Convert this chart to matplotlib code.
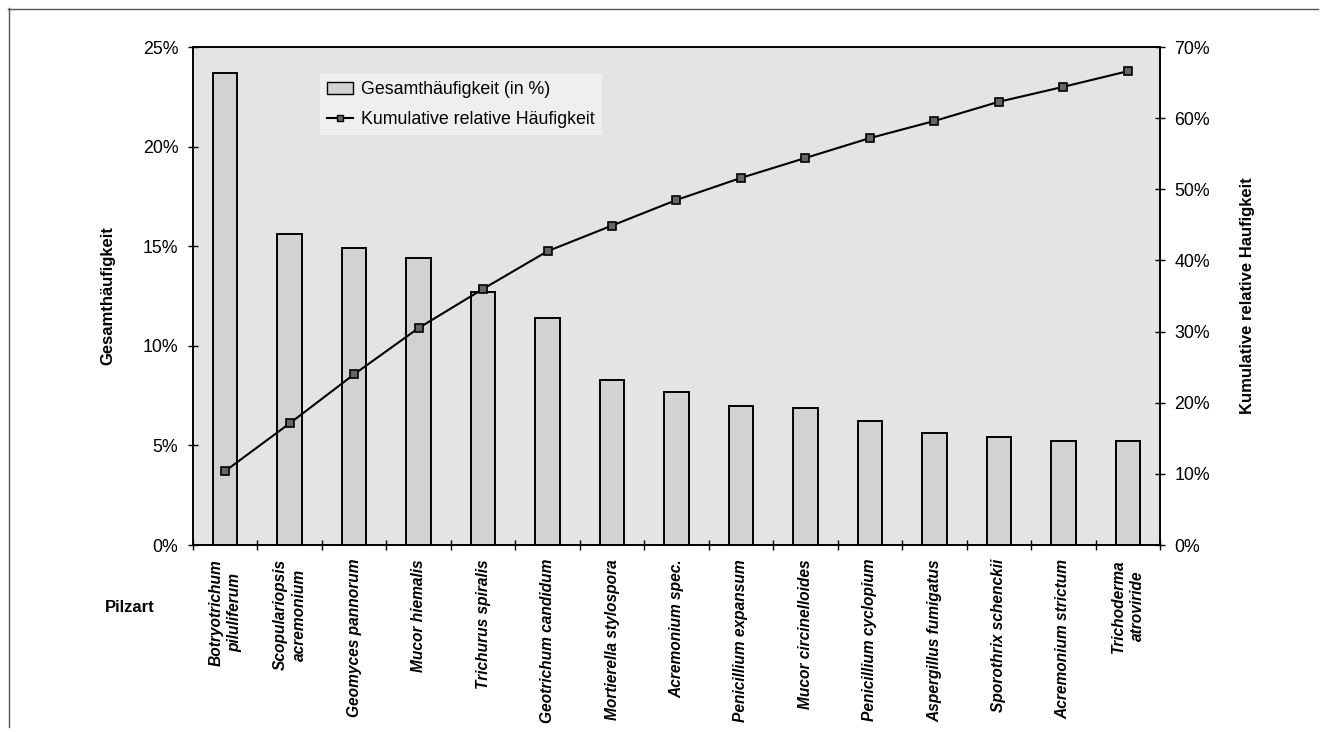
import matplotlib
matplotlib.use("Agg")
import matplotlib.pyplot as plt
import numpy as np
from matplotlib.patches import Patch
from matplotlib.lines import Line2D

plt.rcParams['font.family'] = ['Liberation Sans', 'DejaVu Sans']

species = [
    "Botryotrichum\npiluliferum",
    "Scopulariopsis\nacremonium",
    "Geomyces pannorum",
    "Mucor hiemalis",
    "Trichurus spiralis",
    "Geotrichum candidum",
    "Mortierella stylospora",
    "Acremonium spec.",
    "Penicillium expansum",
    "Mucor circinelloides",
    "Penicillium cyclopium",
    "Aspergillus fumigatus",
    "Sporothrix schenckii",
    "Acremonium strictum",
    "Trichoderma\natroviride",
]
total_pct = [23.7, 15.6, 14.9, 14.4, 12.7, 11.4, 8.3, 7.7, 7.0, 6.9, 6.2, 5.6, 5.4, 5.2, 5.2]
cumulative_pct = [10.4, 17.1, 24.0, 30.5, 36.0, 41.3, 44.9, 48.5, 51.6, 54.4, 57.2, 59.6, 62.3, 64.4, 66.6]
left_ticks = [0, 5, 10, 15, 20, 25]
right_ticks = [0, 10, 20, 30, 40, 50, 60, 70]

W, H = 1327, 732
fig = plt.figure(figsize=(W / 100, H / 100), dpi=100)
fig.patch.set_facecolor("white")

L, R, T, B = 193, 1160, 47, 545
ax = fig.add_axes([L / W, 1 - B / H, (R - L) / W, (B - T) / H])
ax.set_facecolor("#e4e4e4")
ax2 = ax.twinx()

x = np.arange(len(species))
bar_color = "#d2d2d2"
ax.bar(x, total_pct, width=0.38, color=bar_color, edgecolor="black", linewidth=1.4, zorder=2)
ax.set_xlim(-0.5, len(species) - 0.5)
ax.set_ylim(0, 25)
ax.set_yticks(left_ticks)
ax.set_yticklabels([f"{v}%" for v in left_ticks])

ax2.plot(x, cumulative_pct, color="black", linewidth=1.5, marker="s", markersize=5.5,
         markerfacecolor="#666666", markeredgecolor="black", markeredgewidth=1.2, zorder=3)
ax2.set_ylim(0, 70)
ax2.set_yticks(right_ticks)
ax2.set_yticklabels([f"{v}%" for v in right_ticks])

ax.set_xticks(x)
ax.set_xticklabels(species, rotation=90, fontsize=11.2, fontweight="bold", fontstyle="italic",
                   ha="center", va="top", multialignment="center", linespacing=1.3)
ax.set_xticks(np.arange(-0.5, len(species), 1), minor=True)
ax.tick_params(axis="x", which="major", length=0, pad=10)
ax.tick_params(axis="x", which="minor", direction="inout", length=7, width=1)
ax.tick_params(axis="y", direction="inout", length=7, width=1, labelsize=12.8, pad=7)
ax2.tick_params(axis="y", direction="inout", length=7, width=1, labelsize=12.8, pad=7)

for a in (ax, ax2):
    for s in a.spines.values():
        s.set_color("black")
        s.set_linewidth(1.2)

ax.set_ylabel("Gesamthäufigkeit", fontsize=12, fontweight="bold")
ax.yaxis.set_label_coords(-0.0807, 0.5)
ax2.set_ylabel("Kumulative relative Haufigkeit", fontsize=12, fontweight="bold")
ax2.yaxis.set_label_coords(1.083, 0.5)

fig.text(130 / W, 1 - 607 / H, "Pilzart", fontsize=12, fontweight="bold", ha="center", va="center")

handles = [
    Patch(facecolor=bar_color, edgecolor="black", linewidth=1.0),
    Line2D([0], [0], color="black", linewidth=1.5, marker="s", markersize=5,
           markerfacecolor="#666666", markeredgecolor="black"),
]
leg = ax2.legend(handles, ["Gesamthäufigkeit (in %)", "Kumulative relative Häufigkeit"],
                 loc="upper left", bbox_to_anchor=(0.131, 0.946), borderaxespad=0,
                 fontsize=12.8, frameon=True, fancybox=False, handlelength=1.5,
                 handletextpad=0.45, labelspacing=0.72, borderpad=0.4)
leg.get_frame().set_facecolor("#f3f3f3")
leg.get_frame().set_edgecolor("none")

fig.add_artist(Line2D([8.5 / W, 8.5 / W], [1 - 8 / H, 1 - 727 / H], color="#555555", linewidth=1,
                      transform=fig.transFigure))
fig.add_artist(Line2D([8 / W, 1318 / W], [1 - 8.5 / H, 1 - 8.5 / H], color="#555555", linewidth=1,
                      transform=fig.transFigure))

fig.savefig("out.png", dpi=100, facecolor="white")
